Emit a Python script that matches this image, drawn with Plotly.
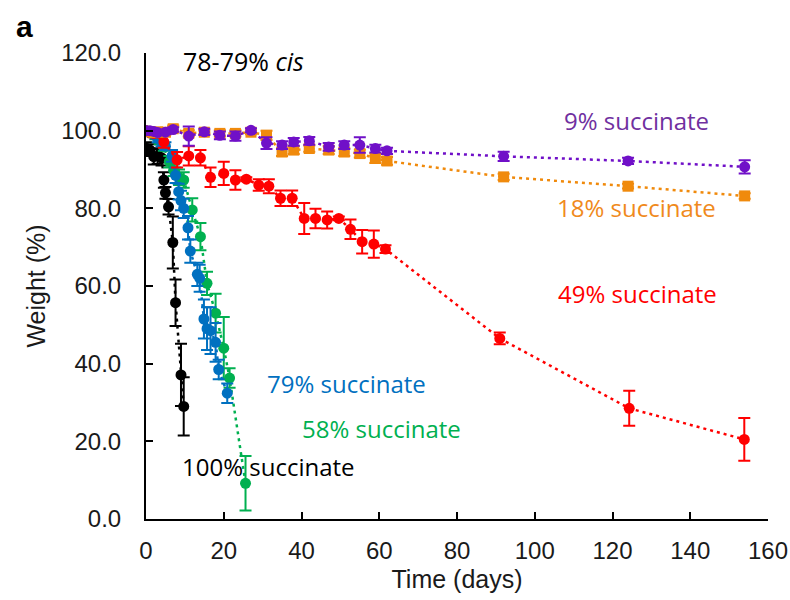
import plotly.graph_objects as go

# ---- data ----
purple_x = [0, 1, 2, 3, 5, 7, 11, 15, 19, 23, 27, 31, 35, 38, 42, 47, 51, 55, 59, 62, 92, 124, 154]
purple_y = [100, 100, 99.8, 99.5, 99.6, 100.3, 98.6, 99.7, 98.8, 98.6, 100.1, 96.8, 96.3, 97.1, 97.4, 95.8, 96.3, 96.3, 95.4, 94.8, 93.4, 92.2, 90.7]
purple_e = [0.6, 0.5, 0.5, 0.5, 0.5, 0.6, 2.5, 0.8, 1.0, 1.2, 0.5, 1.5, 1.0, 1.0, 1.0, 1.0, 1.0, 2.0, 1.0, 0.8, 1.2, 0.8, 1.7]

orange_x = [0, 1, 2, 3, 5, 7, 11, 15, 19, 23, 27, 31, 35, 38, 42, 47, 51, 55, 59, 62, 92, 124, 154]
orange_y = [99.8, 99.7, 99.5, 99.7, 99.6, 100.5, 99.3, 99.6, 99.3, 99.3, 99.6, 98.8, 94.5, 95.0, 95.4, 95.0, 94.5, 94.1, 92.9, 92.2, 88.1, 85.7, 83.2]
orange_e = [0.5, 0.5, 0.5, 0.5, 0.5, 0.8, 0.8, 0.5, 0.8, 0.8, 0.5, 1.2, 1.0, 1.0, 0.8, 1.0, 1.0, 1.0, 1.2, 1.0, 0.8, 0.6, 0.7]

red_x = [0, 2, 4.6, 8, 11, 14, 16.6, 20, 23, 25.8, 29, 31.6, 34.6, 37.6, 40.7, 43.6, 46.6, 49.6, 52.6, 55.6, 58.6, 61.6, 91, 124.3, 153.9]
red_y = [100, 99.3, 97.1, 92.5, 93.5, 93.0, 88.0, 89.0, 87.3, 87.5, 86.0, 85.7, 82.6, 82.6, 77.4, 77.4, 77.0, 77.4, 74.6, 71.4, 70.8, 69.5, 46.5, 28.5, 20.5]
red_e = [0.5, 1.0, 1.5, 2.0, 2.5, 2.0, 2.5, 3.0, 2.5, 0.5, 1.5, 1.8, 2.0, 2.0, 4.0, 2.5, 2.2, 0.5, 2.5, 3.0, 3.5, 1.0, 1.5, 4.5, 5.5]

blue_x = [0, 1, 2, 3, 4, 5, 6.7, 7.6, 8.4, 9, 9.7, 10.8, 11.4, 13.2, 13.8, 14.9, 15.7, 16.6, 17.9, 18.7, 20.9]
blue_y = [100, 99.5, 99, 98, 97, 96, 93.5, 88.5, 84.3, 82, 80, 75, 69, 63, 62, 51.5, 49, 48.5, 45.5, 38.5, 32.4]
blue_e = [0.5, 0.5, 0.5, 1, 1, 1, 1.5, 2, 2, 2.5, 2.5, 3, 3, 3, 3.5, 5, 5.5, 6, 5, 2.5, 2.5]

green_x = [0, 1, 2.4, 3.5, 4.6, 6, 7.1, 8.5, 9.7, 11.9, 14, 15.7, 17.9, 20, 21.5, 25.6]
green_y = [100, 99.5, 98.8, 97.5, 95.8, 92, 89.8, 88, 87.3, 79.6, 72.7, 60.7, 53, 44, 36.3, 9.2]
green_e = [0.5, 0.5, 1, 1, 1, 1.5, 1.5, 2, 2, 3, 3.5, 3, 5, 8, 2.5, 7]

black_x = [0, 1, 2, 3, 4, 4.6, 5, 5.8, 6.9, 7.6, 9, 9.7]
black_y = [95.5, 95, 93.3, 93.5, 93, 87.3, 84, 80.4, 71.2, 55.7, 37.1, 29]
black_e = [1.5, 1.5, 2, 2, 2, 2, 1.5, 2, 6.7, 6, 8, 7.5]

x_ticks = [0, 20, 40, 60, 80, 100, 120, 140, 160]
y_ticks = [0, 20, 40, 60, 80, 100, 120]
y_tick_text = ["0.0", "20.0", "40.0", "60.0", "80.0", "100.0", "120.0"]

series = [
    ("100% succinate", black_x, black_y, black_e, "#000000", "circle"),
    ("58% succinate", green_x, green_y, green_e, "#00B050", "circle"),
    ("79% succinate", blue_x, blue_y, blue_e, "#0070C0", "circle"),
    ("49% succinate", red_x, red_y, red_e, "#FF0000", "circle"),
    ("18% succinate", orange_x, orange_y, orange_e, "#F08A0C", "square"),
    ("9% succinate", purple_x, purple_y, purple_e, "#7010C8", "circle"),
]

fig = go.Figure()
for name, xs, ys, es, col, sym in series:
    fig.add_trace(go.Scatter(
        x=xs, y=ys, name=name, mode="lines+markers",
        line=dict(color=col, width=2.5, dash="3px,4px"),
        marker=dict(color=col, size=11, symbol=sym),
        error_y=dict(type="data", array=es, visible=True, color=col, thickness=2, width=6),
        showlegend=False,
    ))

PL, PR, PT, PB = 146, 768, 53, 519

txt_font = "Open Sans, Noto Sans, sans-serif"
annos = [
    dict(text="78-79% <i>cis</i>", x=243, y=61, color="#000000", size=25),
    dict(text="9% succinate", x=636, y=121, color="#7030A0", size=24),
    dict(text="18% succinate", x=636, y=207, color="#F08A1C", size=24),
    dict(text="49% succinate", x=637, y=293, color="#FF0000", size=24),
    dict(text="79% succinate", x=346, y=383, color="#0070C0", size=24),
    dict(text="58% succinate", x=381, y=428, color="#00B050", size=24),
    dict(text="100% succinate", x=268, y=466, color="#000000", size=24),
]
annotations = []
for a in annos:
    annotations.append(dict(
        text=a["text"], xref="paper", yref="paper",
        x=(a["x"] - PL) / (PR - PL), y=(PB - a["y"]) / (PB - PT),
        xanchor="center", yanchor="middle", showarrow=False,
        font=dict(family=txt_font, size=a["size"], color=a["color"]),
    ))
annotations.append(dict(
    text="<b>a</b>", xref="paper", yref="paper",
    x=(24 - PL) / (PR - PL), y=(PB - 27) / (PB - PT),
    xanchor="center", yanchor="middle", showarrow=False,
    font=dict(family="Liberation Sans, Arial, sans-serif", size=30, color="#000000"),
))

axis_font = dict(family="Liberation Sans, Arial, sans-serif", size=24, color="#1a1a1a")
title_font = dict(family="Liberation Sans, Arial, sans-serif", size=25, color="#1a1a1a")
fig.update_layout(
    width=790, height=600,
    margin=dict(l=PL, r=790 - PR, t=PT, b=600 - PB, autoexpand=False),
    paper_bgcolor="white", plot_bgcolor="white",
    annotations=annotations,
    xaxis=dict(
        range=[0, 160], tickvals=x_ticks, ticktext=[str(v) for v in x_ticks],
        ticks="inside", ticklen=7, tickwidth=1.5, tickcolor="#000000",
        showline=True, linecolor="#000000", linewidth=2,
        showgrid=False, zeroline=False, tickfont=axis_font,
        ticklabelstandoff=9,
        title=dict(text="Time (days)", font=title_font, standoff=8),
    ),
    yaxis=dict(
        range=[0, 120], tickvals=y_ticks, ticktext=y_tick_text,
        ticks="inside", ticklen=7, tickwidth=1.5, tickcolor="#000000",
        showline=True, linecolor="#000000", linewidth=2,
        showgrid=False, zeroline=False, tickfont=axis_font,
        ticklabelstandoff=18,
        title=dict(text="Weight (%)", font=title_font, standoff=8),
    ),
)

fig.write_html(
    "out.html",
    config={"displayModeBar": False},
    post_script="document.body.style.margin='0';document.body.style.overflow='hidden';",
)
